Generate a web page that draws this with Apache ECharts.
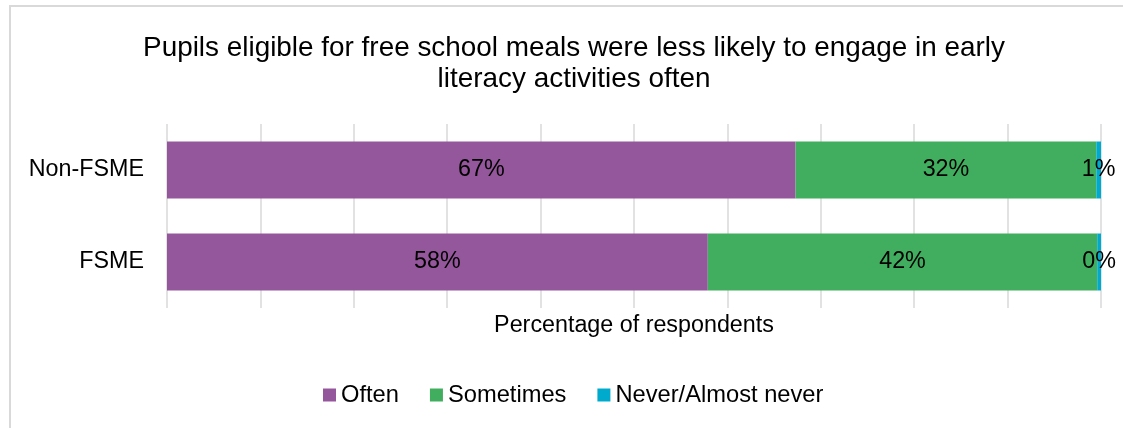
<!DOCTYPE html>
<html>
<head>
<meta charset="utf-8">
<script src="https://cdn.jsdelivr.net/npm/echarts@6/dist/echarts.min.js"></script>
<style>
  html, body { margin: 0; padding: 0; background: #ffffff; }
  #chart { width: 1123px; height: 428px; }
</style>
</head>
<body>
<div id="chart"></div>
<script>
// Pupil groups, top to bottom
const groups = ['Non-FSME', 'FSME'];
// Share of respondents (%) per response
const often = [67.3, 57.9];
const sometimes = [32.2, 41.7];
const never = [0.5, 0.4];

const seriesNames = ['Often', 'Sometimes', 'Never/Almost never'];
const colors = ['#95579b', '#40ae5e', '#00aacc'];
const FONT = '"Liberation Sans", Arial, sans-serif';
const TXT = 23.3;

const chart = echarts.init(document.getElementById('chart'), null, { renderer: 'canvas' });

function barSeries(name, data, color) {
  return {
    name: name,
    type: 'bar',
    stack: 'total',
    data: data,
    barWidth: 57,
    itemStyle: { color: color },
    label: {
      show: true,
      position: 'inside',
      formatter: p => Math.round(p.value) + '%',
      color: '#000',
      fontFamily: FONT,
      fontSize: TXT
    },
    emphasis: { disabled: true }
  };
}

chart.setOption({
  animation: false,
  textStyle: { fontFamily: FONT },
  graphic: [{
    type: 'polyline',
    shape: { points: [[10, 428], [10, 6], [1123, 6]] },
    style: { stroke: '#d9d9d9', lineWidth: 2, fill: null },
    silent: true
  }],
  title: {
    text: 'Pupils eligible for free school meals were less likely to engage in early\nliteracy activities often',
    left: 569,
    textAlign: 'center',
    top: 28,
    textStyle: {
      fontFamily: FONT,
      fontSize: 27.9,
      fontWeight: 'normal',
      color: '#000',
      lineHeight: 31
    }
  },
  legend: {
    bottom: 16,
    left: 318,
    itemWidth: 13,
    itemHeight: 13,
    itemGap: 31,
    icon: 'rect',
    data: seriesNames,
    textStyle: { fontFamily: FONT, fontSize: 23.7, color: '#000' }
  },
  grid: { left: 167, right: 22, top: 124, height: 184, containLabel: false },
  xAxis: {
    type: 'value',
    min: 0,
    max: 100,
    interval: 10,
    name: 'Percentage of respondents',
    nameLocation: 'middle',
    nameGap: 6,
    nameTextStyle: { fontFamily: FONT, fontSize: TXT, color: '#000' },
    axisLabel: { show: false },
    axisTick: { show: false },
    axisLine: { show: false },
    splitLine: { show: true, lineStyle: { color: '#d9d9d9', width: 1.5 } }
  },
  yAxis: {
    type: 'category',
    data: groups,
    inverse: true,
    axisLabel: { fontFamily: FONT, fontSize: TXT, color: '#000', margin: 23 },
    axisTick: { show: false },
    axisLine: { show: false },
    splitLine: { show: false }
  },
  series: [
    barSeries(seriesNames[0], often, colors[0]),
    barSeries(seriesNames[1], sometimes, colors[1]),
    barSeries(seriesNames[2], never, colors[2])
  ]
});
</script>
</body>
</html>
